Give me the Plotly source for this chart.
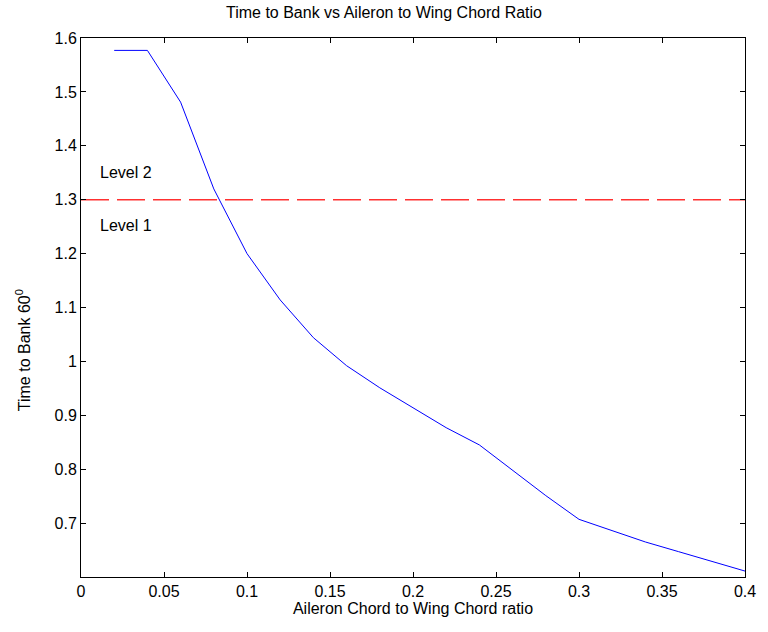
import plotly.graph_objects as go

# Aileron chord / wing chord ratio and the resulting time to bank 60 degrees
chord_ratio = [0.02, 0.04, 0.06, 0.08, 0.10, 0.12, 0.14, 0.16, 0.18, 0.20,
               0.22, 0.24, 0.26, 0.28, 0.30, 0.32, 0.34, 0.36, 0.38, 0.40]
time_to_bank = [1.577, 1.577, 1.481, 1.320, 1.200, 1.114, 1.044, 0.992, 0.951, 0.914,
                0.877, 0.845, 0.798, 0.751, 0.707, 0.686, 0.665, 0.647, 0.629, 0.611]

# Level 1 / Level 2 boundary
level_boundary = 1.3
level_labels = ["Level 2", "Level 1"]
level_label_y = [1.35, 1.252]

x_ticks = [0, 0.05, 0.1, 0.15, 0.2, 0.25, 0.3, 0.35, 0.4]
x_tick_text = ["0", "0.05", "0.1", "0.15", "0.2", "0.25", "0.3", "0.35", "0.4"]
y_ticks = [0.7, 0.8, 0.9, 1.0, 1.1, 1.2, 1.3, 1.4, 1.5, 1.6]
y_tick_text = ["0.7", "0.8", "0.9", "1", "1.1", "1.2", "1.3", "1.4", "1.5", "1.6"]

font_family = "Liberation Sans, Arial, sans-serif"
fs = 16
text_font = dict(family=font_family, size=fs, color="#000000")

fig = go.Figure()

fig.add_trace(go.Scatter(
    x=[0, 0.4], y=[level_boundary, level_boundary],
    mode="lines",
    line=dict(color="#ff3030", width=1.5, dash="28px,8px"),
    hoverinfo="skip", showlegend=False,
))

fig.add_trace(go.Scatter(
    x=chord_ratio, y=time_to_bank,
    mode="lines",
    line=dict(color="#0000ff", width=1),
    showlegend=False,
))

for label, ly in zip(level_labels, level_label_y):
    fig.add_annotation(
        x=0.01, y=ly, text=label, showarrow=False,
        xanchor="left", yanchor="middle", font=text_font,
    )

# vertical y-axis label, placed left of the tick labels
fig.add_annotation(
    xref="paper", yref="paper", x=-0.088, y=0.42,
    text="Time to Bank 60<sup>0</sup>", textangle=-90, showarrow=False,
    xanchor="center", yanchor="middle", font=text_font,
)

axis_common = dict(
    showgrid=False, zeroline=False,
    showline=True, linecolor="#000000", linewidth=1, mirror="allticks",
    ticks="inside", ticklen=5, tickwidth=1, tickcolor="#000000",
    tickfont=text_font,
)

fig.update_xaxes(
    range=[0, 0.4], tickvals=x_ticks, ticktext=x_tick_text,
    title=dict(text="Aileron Chord to Wing Chord ratio", font=text_font, standoff=2),
    **axis_common,
)
fig.update_yaxes(
    range=[0.6, 1.6], tickvals=y_ticks, ticktext=y_tick_text,
    **axis_common,
)

fig.update_layout(
    width=768, height=632,
    margin=dict(l=81, r=15, t=38, b=55),
    paper_bgcolor="#ffffff", plot_bgcolor="#ffffff",
    title=dict(text="Time to Bank vs Aileron to Wing Chord Ratio",
               x=0.5, xanchor="center", y=0.980, yanchor="middle",
               font=text_font),
)

fig.write_html("out.html")
